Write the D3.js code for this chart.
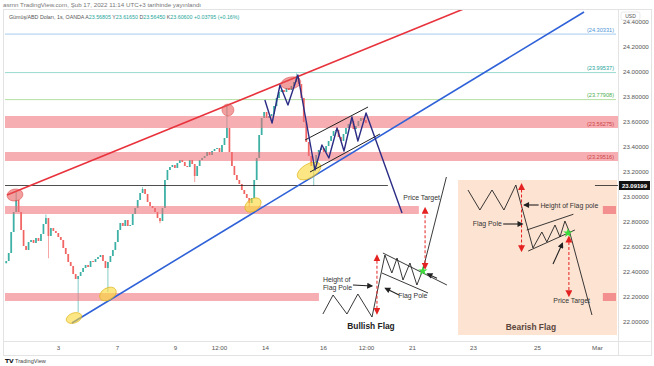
<!DOCTYPE html>
<html><head><meta charset="utf-8">
<script src="https://cdn.jsdelivr.net/npm/d3@7"></script>
<style>
body{margin:0;background:#fff;}
svg{display:block;font-family:"Liberation Sans",Arial,sans-serif;}
</style>
</head><body>
<svg id="c" width="654" height="366"></svg>
<script>
// ---------- DATA (bar index in 2-hour bars, prices in USD) ----------
const closes = [22.488,22.552,22.720,22.880,22.976,22.880,22.736,22.608,22.576,22.640,
 22.656,22.632,22.672,22.648,22.704,22.784,22.832,22.688,22.752,22.728,
 22.712,22.680,22.656,22.592,22.544,22.480,22.448,22.384,22.344,22.368,
 22.400,22.432,22.456,22.440,22.488,22.480,22.504,22.520,22.536,22.488,
 22.432,22.480,22.528,22.576,22.640,22.736,22.792,22.768,22.816,22.768,
 22.776,22.864,22.912,22.976,23.032,23.064,23.024,22.960,22.928,22.912,
 22.880,22.832,22.808,22.912,23.136,23.216,23.240,23.256,23.232,23.272,
 23.296,23.280,23.248,23.240,23.296,23.264,23.168,23.248,23.296,23.312,
 23.328,23.360,23.336,23.368,23.384,23.392,23.360,23.416,23.472,23.552,
 23.360,23.248,23.176,23.136,23.104,23.056,23.024,22.992,22.952,22.992,
 23.136,23.312,23.496,23.632,23.680,23.632,23.648,23.664,23.728,23.792,
 23.840,23.856,23.840,23.872,23.856,23.888,23.920,23.952,23.904,23.792,
 23.600,23.440,23.328,23.248,23.272,23.336,23.376,23.392,23.360,23.408,
 23.448,23.488,23.528,23.536,23.480,23.448,23.504,23.552,23.584,23.608,
 23.544,23.568,23.608,23.632,23.616,23.592];
const firstOpen = 22.47;
const wickHighs = [[4,23.04],[16,22.86],[55,23.08],[89,23.736],[117,23.99]];
const wickLows = [[17,22.51],[29,22.08],[41,22.24],[62,22.79],[76,23.12],[98,22.92],[124,23.09]];

const priceTicks = [22.0,22.2,22.4,22.6,22.8,23.0,23.2,23.4,23.6,23.8,24.0,24.2,24.4];
const timeTickBars = [21.4,45.2,68.5,86.3,104.8,128.2,145.6,164.1,188.7,214.5,238.7];
const timeTickLabels = ["3","7","9","12:00","14","16","12:00","21","23","25","Mar"];

const lastPrice = 23.09199;
const priceLineValues = [24.30331, 23.99537, 23.77908];
const zoneTops = [23.648, 23.36, 22.928, 22.232];
const zoneBottoms = [23.552, 23.288, 22.864, 22.168];
const zoneEnds = [247.2, 247.2, 166.9, 126.6];
const zoneLabels = ["(23.56275)", "(23.29516)", "", ""];
const sideBoxZones = [2, 3];

const redTrend = [[0.81,23.016],[185.9,24.512]];
const blueTrend = [[27.0,21.992],[233.5,24.48]];
const redEllipses = [[4.03,23.016],[89.9,23.696],[115.3,23.912]];
const yellowEllipses = [[27.8,22.032],[41.5,22.224],[100.0,22.936],[122.6,23.208]];
const navyPath = [[104.8,23.776],[107.7,23.592],[110.9,23.896],[114.1,23.736],[118.1,23.976],
 [125.0,23.216],[127.8,23.416],[130.6,23.312],[133.9,23.552],[136.7,23.368],[139.9,23.64],
 [142.3,23.448],[145.6,23.672],[160.1,22.872]];
const channelUpper = [[121.0,23.456],[146.4,23.72]];
const channelLower = [[123.0,23.2],[151.2,23.504]];
const blackLineEnd = 154.4;

// Bullish flag illustration (data units)
const bullPath = [[128.2,22.064],[132.3,22.216],[137.9,22.064],[142.3,22.224],[148.0,22.04],
 [153.2,22.536],[156.0,22.392],[158.1,22.512],[160.5,22.336],[163.3,22.472],[166.1,22.296],
 [168.5,22.416],[178.0,23.16]];
const bullChanUpper = [[152.4,22.552],[178.2,22.296]];
const bullChanLower = [[152.0,22.392],[170.6,22.232]];
const bullPoleArrow = [[150.0,22.53],[150.0,22.07]];
const bullTargetArrow = [[169.4,22.43],[169.4,22.91]];
const bullBreak = [168.5,22.408];
const bullHeightArrow = [[140.3,22.296],[148.0,22.288]];
const bullPoleLabelArrow = [[158.9,22.216],[153.4,22.27]];
const bullBreakArrow = [[174.2,22.35],[170.4,22.385]];

// Bearish flag illustration (data units)
const bearBox = [[182.7,23.136],[246.8,21.896]];
const bearPath = [[186.7,23.056],[191.5,22.896],[196.4,23.056],[201.2,22.896],[206.0,23.096],
 [212.9,22.592],[216.5,22.72],[218.5,22.64],[221.8,22.776],[223.8,22.68],[225.8,22.808],
 [227.8,22.712],[236.7,22.056]];
const bearChanUpper = [[210.4,22.736],[229.2,22.862]];
const bearChanLower = [[211.0,22.568],[229.8,22.736]];
const bearPoleArrow = [[208.3,23.10],[208.3,22.57]];
const bearTargetArrow = [[227.4,22.68],[227.4,22.21]];
const bearBreak = [227.0,22.712];
const bearHeightArrow = [[215.2,22.936],[209.4,22.936]];
const bearPoleLabelArrow = [[200.9,22.784],[208.6,22.784]];
const bearBreakArrow = [[221.0,22.464],[224.8,22.63]];

const textNotes = [
  {t:"Height of", at:[128.2,22.322], a:"start"},
  {t:"Flag Pole", at:[128.2,22.258], a:"start"},
  {t:"Flag Pole", at:[158.6,22.19], a:"start"},
  {t:"Price Target", at:[168.0,22.975], a:"middle"},
  {t:"Height of Flag pole", at:[215.9,22.914], a:"start"},
  {t:"Flag Pole", at:[188.6,22.766], a:"start"},
  {t:"Price Target", at:[228.5,22.15], a:"middle"}
];
const titleNotes = [{t:"Bullish Flag", at:[147.6,21.945]},{t:"Bearish Flag", at:[212.1,21.94]}];

// ---------- LAYOUT / SCALES ----------
const svg = d3.select("#c");
const L=5, R=618, T=10, B=341;
const x = d3.scaleLinear().domain([0,247.2]).range([L,R]);
const y = d3.scaleLinear().domain([22,24.2]).range([322,47]);
const line = d3.line().x(d=>x(d[0])).y(d=>y(d[1]));

const defs = svg.append("defs");
defs.append("clipPath").attr("id","plot").append("rect").attr("x",L).attr("y",T).attr("width",R-L).attr("height",B-T);
function mk(id,color,w,h){
  defs.append("marker").attr("id",id).attr("viewBox","0 0 10 10").attr("refX",8).attr("refY",5)
   .attr("markerWidth",w).attr("markerHeight",h).attr("markerUnits","userSpaceOnUse")
   .attr("orient","auto-start-reverse")
   .append("path").attr("d","M0,0L10,5L0,10Z").attr("fill",color);
}
mk("ared","#e52222",7,7);
mk("ablk","#222",7,6);

// frame
svg.append("rect").attr("x",3.5).attr("y",9.5).attr("width",648).attr("height",346).attr("fill","none").attr("stroke","#e3e3e3");
svg.append("line").attr("x1",R+0.5).attr("x2",R+0.5).attr("y1",9.5).attr("y2",355.5).attr("stroke","#e3e3e3");
svg.append("line").attr("x1",3.5).attr("x2",651.5).attr("y1",B+0.5).attr("y2",B+0.5).attr("stroke","#e3e3e3");

const g = svg.append("g").attr("clip-path","url(#plot)");

// bearish panel background
g.append("rect").attr("x",x(bearBox[0][0])).attr("y",y(bearBox[0][1]))
 .attr("width",x(bearBox[1][0])-x(bearBox[0][0])).attr("height",y(bearBox[1][1])-y(bearBox[0][1]))
 .attr("fill","#fde3d2");

// price lines
const plColors = ["#8fbde8","#7fd1c3","#9ed48a"];
const plText = ["#4d94d6","#26a69a","#4caf50"];
priceLineValues.forEach((v,i)=>{
  g.append("line").attr("x1",L).attr("x2",R-2).attr("y1",y(v)).attr("y2",y(v)).attr("stroke",plColors[i]).attr("stroke-width",0.8);
  g.append("text").attr("x",R-4).attr("y",y(v)-2.5).attr("text-anchor","end").attr("font-size",5.6)
   .attr("fill",plText[i]).text("("+v.toFixed(5)+")");
});

// candles
const bars = closes.map((c,i)=>{
  const o = i===0?firstOpen:closes[i-1];
  let h=Math.max(o,c), l=Math.min(o,c);
  wickHighs.forEach(w=>{if(w[0]===i)h=w[1];});
  wickLows.forEach(w=>{if(w[0]===i)l=w[1];});
  return {i,o,c,h,l};
});
const cg = g.append("g");
cg.selectAll("line").data(bars).join("line")
 .attr("x1",d=>x(d.i+0.5)).attr("x2",d=>x(d.i+0.5)).attr("y1",d=>y(d.h)).attr("y2",d=>y(d.l))
 .attr("stroke",d=>d.c>=d.o?"#26a69a":"#ef5350").attr("stroke-width",0.7).attr("opacity",0.8);
cg.selectAll("rect").data(bars).join("rect")
 .attr("x",d=>x(d.i+0.5)-0.9).attr("width",1.8)
 .attr("y",d=>y(Math.max(d.o,d.c))).attr("height",d=>Math.max(0.8,Math.abs(y(d.o)-y(d.c))))
 .attr("fill",d=>d.c>=d.o?"#26a69a":"#ef5350").attr("opacity",0.8);

// zones
zoneTops.forEach((t,i)=>{
  g.append("rect").attr("x",L).attr("y",y(t)).attr("width",x(zoneEnds[i])-L).attr("height",y(zoneBottoms[i])-y(t))
   .attr("fill","#ef6b74").attr("opacity",0.55);
  if(zoneLabels[i]) g.append("text").attr("x",R-4).attr("y",y(zoneBottoms[i])-2.5).attr("text-anchor","end")
   .attr("font-size",5.6).attr("fill","#c44").text(zoneLabels[i]);
});
sideBoxZones.forEach(i=>{
  g.append("rect").attr("x",x(241.1)).attr("y",y(zoneTops[i])).attr("width",R-2-x(241.1)).attr("height",y(zoneBottoms[i])-y(zoneTops[i]))
   .attr("fill","#ef6b74").attr("opacity",0.7);
});

// black horizontal line
g.append("line").attr("x1",L).attr("x2",x(blackLineEnd)).attr("y1",y(lastPrice)).attr("y2",y(lastPrice)).attr("stroke","#222").attr("stroke-width",0.8);
g.append("line").attr("x1",x(237.9)).attr("x2",R).attr("y1",y(lastPrice)).attr("y2",y(lastPrice)).attr("stroke","#222").attr("stroke-width",0.8);

// trend lines
g.append("path").attr("d",line(redTrend)).attr("stroke","#e8323c").attr("stroke-width",1.6).attr("fill","none");
g.append("path").attr("d",line(blueTrend)).attr("stroke","#2f62d8").attr("stroke-width",1.6).attr("fill","none");

// ellipses
const ell = [[redEllipses[0],8,6,-10,"r"],[redEllipses[1],6,6,0,"r"],[redEllipses[2],10,6,-10,"r"],
 [yellowEllipses[0],8,5,-20,"y"],[yellowEllipses[1],9,6,-30,"y"],[yellowEllipses[2],9,6,-35,"y"],[yellowEllipses[3],13,7,-30,"y"]];
ell.forEach(e=>{
  g.append("ellipse").attr("cx",0).attr("cy",0).attr("rx",e[1]).attr("ry",e[2])
   .attr("transform",`translate(${x(e[0][0])},${y(e[0][1])}) rotate(${e[3]})`)
   .attr("fill",e[4]==="r"?"rgba(232,80,80,0.55)":"rgba(250,215,50,0.6)")
   .attr("stroke",e[4]==="r"?"rgba(220,70,70,0.6)":"rgba(220,180,30,0.8)").attr("stroke-width",0.8);
});

// channel + navy zigzag
[channelUpper,channelLower].forEach(c=>g.append("path").attr("d",line(c)).attr("stroke","#222").attr("stroke-width",1).attr("fill","none"));
g.append("path").attr("d",line(navyPath)).attr("stroke","#2b2d85").attr("stroke-width",1.4).attr("fill","none").attr("stroke-linejoin","round");

// illustrations
function pathBlk(p,w){g.append("path").attr("d",line(p)).attr("stroke","#222").attr("stroke-width",w||0.9).attr("fill","none");}
function arrowBlk(p){g.append("path").attr("d",line(p)).attr("stroke","#222").attr("stroke-width",1.1).attr("fill","none").attr("marker-end","url(#ablk)");}
function arrowRed(p){g.append("path").attr("d",line(p)).attr("stroke","#e52222").attr("stroke-width",1).attr("stroke-dasharray","3,2")
  .attr("fill","none").attr("marker-start","url(#ared)").attr("marker-end","url(#ared)");}
function star(p){g.append("path").attr("d",d3.symbol(d3.symbolStar,28)()).attr("transform",`translate(${x(p[0])},${y(p[1])})`).attr("fill","#3ddc3d");}

pathBlk(bullPath,0.9); pathBlk(bullChanUpper); pathBlk(bullChanLower);
arrowRed(bullPoleArrow); arrowRed(bullTargetArrow); star(bullBreak);
arrowBlk(bullHeightArrow); arrowBlk(bullPoleLabelArrow); arrowBlk(bullBreakArrow);

pathBlk(bearPath,0.9); pathBlk(bearChanUpper); pathBlk(bearChanLower);
arrowRed(bearPoleArrow); arrowRed(bearTargetArrow); star(bearBreak);
arrowBlk(bearHeightArrow); arrowBlk(bearPoleLabelArrow); arrowBlk(bearBreakArrow);

textNotes.forEach(n=>g.append("text").attr("x",x(n.at[0])).attr("y",y(n.at[1])).attr("text-anchor",n.a)
  .attr("font-size",6.9).attr("fill","#333").text(n.t));
titleNotes.forEach((n,i)=>g.append("text").attr("x",x(n.at[0])).attr("y",y(n.at[1])).attr("text-anchor","middle")
  .attr("font-size",8.4).attr("font-weight","bold").attr("fill",i?"#5a463c":"#222").text(n.t));

// axes
const ya = svg.append("g").attr("transform",`translate(${R},0)`)
 .call(d3.axisRight(y).tickValues(priceTicks).tickFormat(d3.format(".5f")).tickSize(0).tickPadding(5));
ya.select(".domain").remove();
ya.selectAll("text").attr("font-size",6.2).attr("fill","#555").attr("font-family","Liberation Sans, Arial");

const xa = svg.append("g").attr("transform",`translate(0,${B})`)
 .call(d3.axisBottom(x).tickValues(timeTickBars).tickFormat((d,i)=>timeTickLabels[i]).tickSize(0).tickPadding(5));
xa.select(".domain").remove();
xa.selectAll("text").attr("font-size",6.2).attr("fill","#555").attr("font-family","Liberation Sans, Arial");

// last price label
svg.append("rect").attr("x",R+1).attr("y",y(lastPrice)-4.5).attr("width",31).attr("height",9).attr("fill","#111");
svg.append("text").attr("x",R+16.5).attr("y",y(lastPrice)+2.2).attr("text-anchor","middle").attr("font-size",6)
 .attr("font-weight","bold").attr("fill","#fff").text(lastPrice.toFixed(5));

// USD tag
svg.append("rect").attr("x",621).attr("y",12).attr("width",19).attr("height",8).attr("rx",2).attr("fill","#fff").attr("stroke","#ddd").attr("stroke-width",0.6);
svg.append("text").attr("x",630.5).attr("y",18).attr("text-anchor","middle").attr("font-size",5).attr("fill","#555").text("USD");

// header
svg.append("text").attr("x",3).attr("y",7).attr("font-size",6.2).attr("fill","#777")
 .text("asrnn TradingView.com, Şub 17, 2022 11:14 UTC+3 tarihinde yayınlandı");
const hd = svg.append("text").attr("x",9).attr("y",19).attr("font-size",5.3).attr("fill","#555");
hd.append("tspan").text("Gümüş/ABD Doları, 1s, OANDA  ");
[["A","23.56805"],["Y","23.61650"],["D","23.56450"],["K","23.60600"]].forEach(p=>{
  hd.append("tspan").attr("fill","#555").text(p[0]);
  hd.append("tspan").attr("fill","#26a69a").text(p[1]+"  ");
});
hd.append("tspan").attr("fill","#26a69a").text("+0.03795 (+0.16%)");

// footer logo
svg.append("text").attr("x",5).attr("y",363).attr("font-size",6).attr("font-weight","bold").attr("fill","#131722").text("𝗧𝗩");
svg.append("text").attr("x",15).attr("y",363).attr("font-size",5.6).attr("fill","#444").text("TradingView");
</script>
</body></html>
